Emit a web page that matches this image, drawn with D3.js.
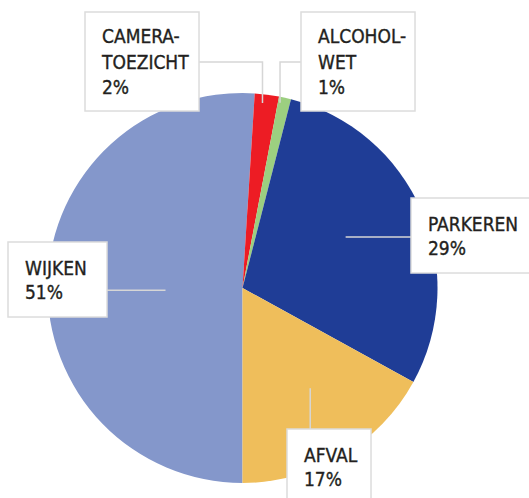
<!DOCTYPE html>
<html>
<head>
<meta charset="utf-8">
<script src="https://cdn.jsdelivr.net/npm/d3@7"></script>
<style>
  html, body { margin: 0; padding: 0; background: #fff; }
  svg { display: block; }
</style>
</head>
<body>
<svg id="chart"></svg>
<script>
// data
const categories = ["WIJKEN", "CAMERA-TOEZICHT", "ALCOHOL-WET", "PARKEREN", "AFVAL"];
const values = [51, 2, 1, 29, 17];
const labelLines = [["WIJKEN"], ["CAMERA-", "TOEZICHT"], ["ALCOHOL-", "WET"], ["PARKEREN"], ["AFVAL"]];
const colors = ["#8497cb", "#ed1c24", "#9ccf80", "#1f3d96", "#efbe5b"];

// layout
const width = 529, height = 498;
const cx = 242.5, cy = 288, radius = 195;
// box: [x, y, w, h], leader: anchor radius, leader type
const boxes = [
  {box: [8, 242, 99, 75], r: 77, dA: -0.06, side: "right"},
  {box: [85, 12, 114, 99], r: 186, dA: -0.018, side: "up-right"},
  {box: [301, 12, 114, 99], r: 189, dA: -0.02, side: "up-left"},
  {box: [411, 198, 130, 75], r: 115, dA: -0.05, side: "left"},
  {box: [287, 429, 84, 80], r: 121, dA: -0.06, side: "down"}
];

const svg = d3.select("#chart")
  .attr("width", width)
  .attr("height", height)
  .attr("viewBox", [0, 0, width, height]);

const pie = d3.pie().sort(null).value(d => d)
  .startAngle(Math.PI).endAngle(3 * Math.PI);
const arcs = pie(values);
const arc = d3.arc().innerRadius(0).outerRadius(radius);

const g = svg.append("g").attr("transform", `translate(${cx},${cy})`);
g.selectAll("path")
  .data(arcs)
  .join("path")
  .attr("d", arc)
  .attr("fill", (d, i) => colors[i]);

// leader lines
const lineColor = "#d6d6d6";
arcs.forEach((a, i) => {
  const b = boxes[i];
  const mid = (a.startAngle + a.endAngle) / 2 + b.dA;
  const ax = cx + b.r * Math.sin(mid);
  const ay = cy - b.r * Math.cos(mid);
  const [bx, by, bw, bh] = b.box;
  let pts;
  if (b.side === "right") pts = [[ax, ay], [bx + bw, ay]];
  else if (b.side === "left") pts = [[ax, ay], [bx, ay]];
  else if (b.side === "down") pts = [[ax, ay], [ax, by]];
  else if (b.side === "up-right") pts = [[ax, ay], [ax, by + 50], [bx + bw, by + 50]];
  else pts = [[ax, ay], [ax, by + 50], [bx, by + 50]];
  svg.append("path")
    .attr("d", d3.line()(pts))
    .attr("fill", "none")
    .attr("stroke", lineColor)
    .attr("stroke-width", 1.5);
});

// label boxes
const font = "'DejaVu Sans Condensed', 'Liberation Sans Narrow', sans-serif";
arcs.forEach((a, i) => {
  const [bx, by, bw, bh] = boxes[i].box;
  svg.append("rect")
    .attr("x", bx).attr("y", by)
    .attr("width", bw).attr("height", bh)
    .attr("fill", "#fff")
    .attr("stroke", "#dcdcdc")
    .attr("stroke-width", 1.5);
  const lines = labelLines[i].concat([values[i] + "%"]);
  const multi = lines.length > 2;
  const text = svg.append("text")
    .attr("x", bx + 17)
    .attr("y", by + (multi ? 31 : 33))
    .attr("font-family", font)
    .attr("font-size", 19)
    .attr("letter-spacing", 0)
    .attr("fill", "#231f20")
    .attr("stroke", "#231f20")
    .attr("stroke-width", 0.35);
  lines.forEach((l, j) => {
    text.append("tspan")
      .attr("x", bx + 17)
      .attr("dy", j === 0 ? 0 : (multi ? 25.5 : 23.5))
      .text(l);
  });
});
</script>
</body>
</html>
